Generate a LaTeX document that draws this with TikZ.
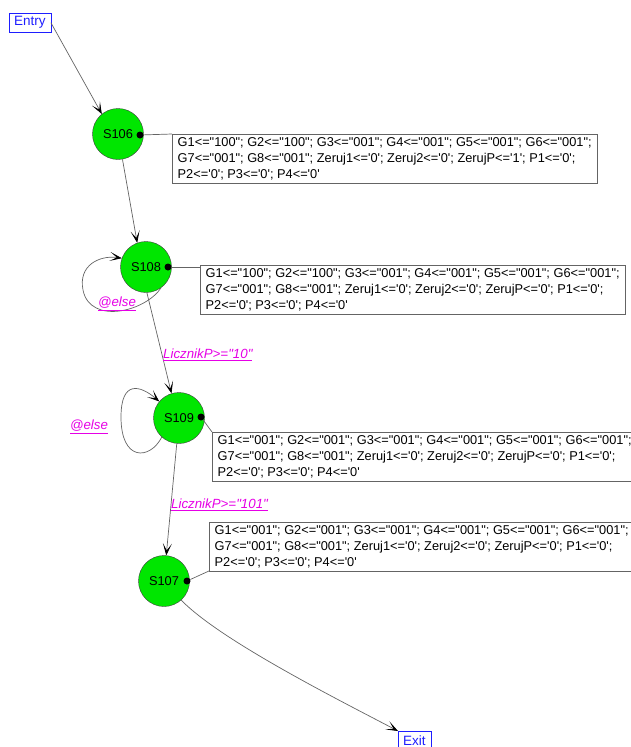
\documentclass[tikz,border=0pt]{standalone}
\usepackage{fontspec}
\setmainfont{Liberation Sans}[Ligatures=TeXOff]
\usetikzlibrary{arrows.meta}
\definecolor{stgreen}{RGB}{0,230,0}
\definecolor{lblmag}{RGB}{230,0,230}
\definecolor{portblue}{RGB}{30,30,255}
\definecolor{linegray}{RGB}{100,100,100}
\begin{document}
\begin{tikzpicture}[x=1pt,y=-1pt,
  state/.style={circle,draw=black!75,fill=stgreen,minimum size=51pt,inner sep=0pt,font=\fontsize{12.8}{14}\selectfont},
  portbox/.style={draw=portblue,text=portblue,font=\fontsize{13.5}{15}\selectfont,inner xsep=5pt,inner ysep=0pt,minimum height=19pt,anchor=north west},
  actbox/.style={draw=linegray,fill=white,align=left,anchor=north west,font=\fontsize{12.8}{16}\selectfont,inner xsep=5.5pt,inner ysep=3pt},
  dotc/.style={circle,fill=black,inner sep=0pt,minimum size=7pt},
  conn/.style={draw=linegray,line width=0.7pt},
  trans/.style={conn,-{Stealth[length=12pt,width=9pt,inset=7pt,color=black]}},
  cond/.style={text=lblmag,font=\fontsize{13.3}{15}\selectfont\itshape,inner sep=0pt}
]
\useasboundingbox (0,0) rectangle (631,747);
\clip (0,0) rectangle (631,747);

% states and ports
\node[portbox] (entry) at (9,13) {Entry};
\node[state] (s106) at (118,134) {S106};
\node[state] (s108) at (146,267) {S108};
\node[state] (s109) at (179,418) {S109};
\node[state] (s107) at (164,581) {S107};
\node[portbox] (exit) at (398,731) {Exit};

% action boxes
\node[actbox] (b106) at (172,134) {G1<="100"; G2<="100"; G3<="001"; G4<="001"; G5<="001"; G6<="001";\\G7<="001"; G8<="001"; Zeruj1<='0'; Zeruj2<='0'; ZerujP<='1'; P1<='0';\\P2<='0'; P3<='0'; P4<='0'};
\node[actbox] (b108) at (200,265) {G1<="100"; G2<="100"; G3<="001"; G4<="001"; G5<="001"; G6<="001";\\G7<="001"; G8<="001"; Zeruj1<='0'; Zeruj2<='0'; ZerujP<='0'; P1<='0';\\P2<='0'; P3<='0'; P4<='0'};
\node[actbox] (b109) at (212,432) {G1<="001"; G2<="001"; G3<="001"; G4<="001"; G5<="001"; G6<="001";\\G7<="001"; G8<="001"; Zeruj1<='0'; Zeruj2<='0'; ZerujP<='0'; P1<='0';\\P2<='0'; P3<='0'; P4<='0'};
\node[actbox] (b107) at (209,522) {G1<="001"; G2<="001"; G3<="001"; G4<="001"; G5<="001"; G6<="001";\\G7<="001"; G8<="001"; Zeruj1<='0'; Zeruj2<='0'; ZerujP<='0'; P1<='0';\\P2<='0'; P3<='0'; P4<='0'};

% action dots
\node[dotc] (d106) at (140,135) {};
\node[dotc] (d108) at (168,267) {};
\node[dotc] (d109) at (201,417) {};
\node[dotc] (d107) at (187,581) {};

\draw[conn] (d106) -- (b106.north west);
\draw[conn] (d108) -- ([yshift=-2pt]b108.north west);
\draw[conn] (d109) -- (b109.north west);
\draw[conn] (d107) -- (b107.south west);

% transitions
\draw[trans] (entry.east) -- (s106.129);
\draw[trans] (s106.280) -- (s108.110);
\draw[trans] (s108.306) .. controls (145,312) and (90,325) .. (83,290) .. controls (78,265) and (100,255) .. (s108.160);
\node[cond] (l108) at (117,304) {\underline{@else}};
\draw[trans] (s108.272) -- (s109.107);
\node[cond,anchor=west] (l810) at (163,355) {\underline{LicznikP>="10"}};
\draw[trans] (s109.228) .. controls (150,460) and (121,462) .. (121,417) .. controls (121,380) and (140,385) .. (s109.140);
\node[cond] (l109) at (89,427) {\underline{@else}};
\draw[trans] (s109.265) -- (s107.85);
\node[cond,anchor=west] (l907) at (171,505) {\underline{LicznikP>="101"}};
\draw[trans] (s107.312) .. controls (220,640) and (335,698) .. (exit.north west);
\end{tikzpicture}
\end{document}
